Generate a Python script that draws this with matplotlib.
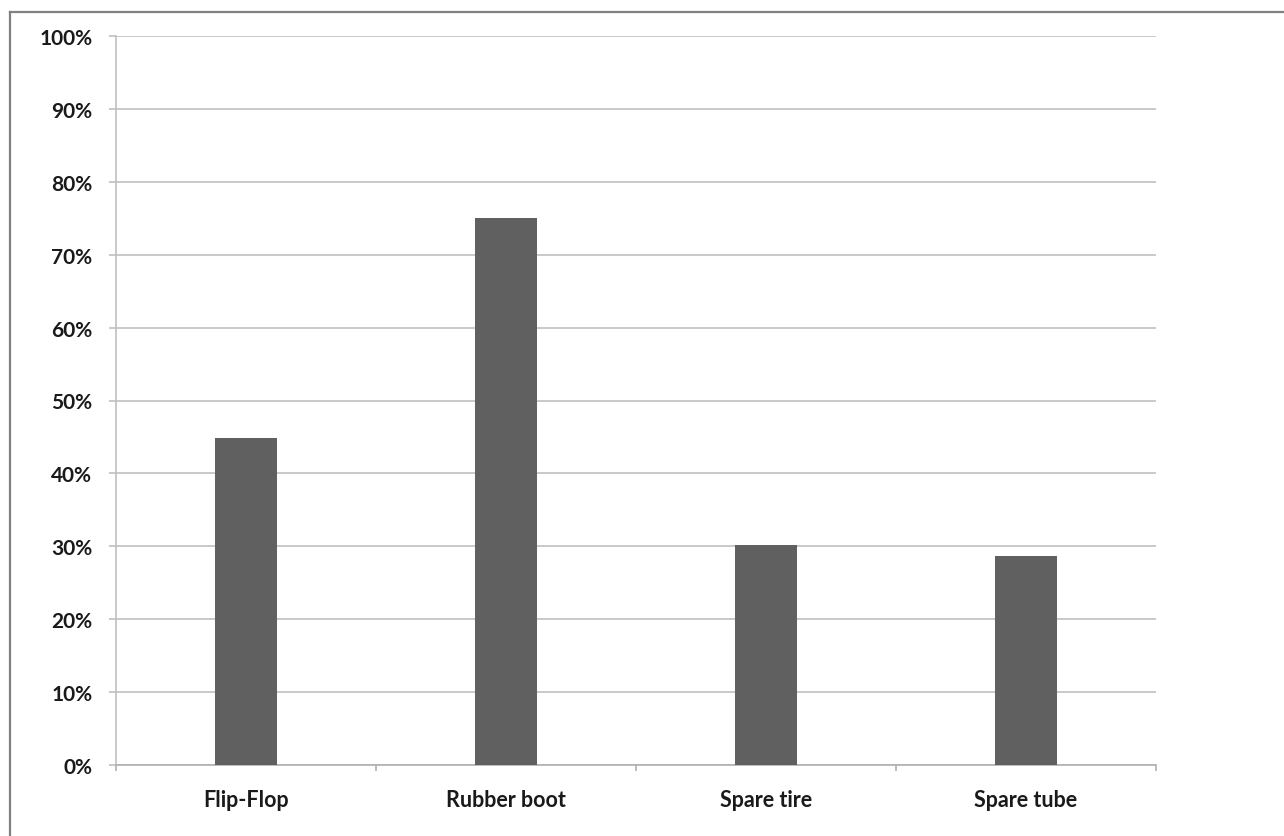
import matplotlib
matplotlib.use("Agg")
import matplotlib.pyplot as plt
from matplotlib.ticker import PercentFormatter, FixedLocator
from matplotlib.lines import Line2D

categories = ["Flip-Flop", "Rubber boot", "Spare tire", "Spare tube"]
shares = [44.8, 75.0, 30.2, 28.7]
y_ticks = [0, 10, 20, 30, 40, 50, 60, 70, 80, 90, 100]

plt.rcParams["font.family"] = ["Lato", "DejaVu Sans"]

W, H, DPI = 1284, 837, 100
fig = plt.figure(figsize=(W / DPI, H / DPI), dpi=DPI)
fig.patch.set_facecolor("white")

# outer chart frame (top and left edges)
fig.add_artist(Line2D([10 / W, 1.0], [1 - 13 / H, 1 - 13 / H], transform=fig.transFigure,
                      color="#808080", lw=1.6))
fig.add_artist(Line2D([10 / W, 10 / W], [0.0, 1 - 13 / H], transform=fig.transFigure,
                      color="#808080", lw=1.6))

left, right, top, bottom = 116, 1156, 37, 766
ax = fig.add_axes([left / W, 1 - bottom / H, (right - left) / W, (bottom - top) / H])

x = range(len(categories))
ax.bar(x, shares, width=0.24, color="#606060", zorder=3)

ax.set_xlim(-0.5, len(categories) - 0.5)
ax.set_ylim(0, 100)
ax.yaxis.set_major_locator(FixedLocator(y_ticks))
ax.yaxis.set_major_formatter(PercentFormatter(decimals=0))
ax.yaxis.grid(True, color="#c0c0c0", lw=1.2, zorder=0)

ax.set_xticks(list(x))
ax.set_xticklabels(categories)
ax.set_xticks([i - 0.5 for i in range(len(categories) + 1)], minor=True)
ax.tick_params(axis="x", which="major", length=0, pad=17, labelsize=15.5)
ax.tick_params(axis="x", which="minor", length=4.5, width=1.2, color="#b0b0b0", direction="out")
ax.tick_params(axis="y", length=5, width=1.2, color="#c0c0c0", pad=12, labelsize=15)
for lab in ax.get_xticklabels() + ax.get_yticklabels():
    lab.set_fontweight("bold")
    lab.set_color("#1a1a1a")

for side in ("top", "right"):
    ax.spines[side].set_visible(False)
ax.spines["left"].set_color("#c0c0c0")
ax.spines["left"].set_linewidth(1.2)
ax.spines["bottom"].set_color("#b0b0b0")
ax.spines["bottom"].set_linewidth(1.2)

fig.savefig("out.png", dpi=DPI)
